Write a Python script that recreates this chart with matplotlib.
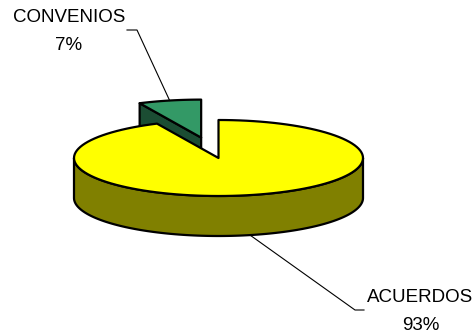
import numpy as np
import matplotlib
matplotlib.use("Agg")
import matplotlib.pyplot as plt
from matplotlib.patches import Polygon

# Data
categories = ["CONVENIOS", "ACUERDOS"]
values = [7, 93]
pct_labels = ["7%", "93%"]
explode = [0.55, 0.0]

top_colors = ["#339966", "#FFFF00"]
side_colors = ["#1B4D33", "#808000"]

fig = plt.figure(figsize=(4.75, 3.33), dpi=100)
ax = fig.add_axes([0, 0, 1, 1])
ax.set_xlim(0, 475)
ax.set_ylim(333, 0)
ax.axis("off")

# Pie geometry (projected ellipse, in canvas units)
cx, cy = 218.5, 158.0
rx, ry = 144.5, 38.0
depth = 40.0
start_angle = 90.0


def point(t, ox=0.0, oy=0.0, dz=0.0):
    r = np.radians(t)
    return (cx + ox + rx * np.cos(r), cy + oy - ry * np.sin(r) + dz)


def arc(t0, t1, ox, oy, dz=0.0, n=120):
    ts = np.linspace(t0, t1, n)
    return [point(t, ox, oy, dz) for t in ts]


total = float(sum(values))
bounds = []
a = start_angle
for v in values:
    b = a + 360.0 * v / total
    bounds.append((a, b))
    a = b

# back-to-front order by slice midpoint
mids = [(a0 + a1) / 2 for a0, a1 in bounds]
order = sorted(range(len(values)), key=lambda i: -np.sin(np.radians(mids[i])))

lw = 1.6
label_anchor = {}
for i in order:
    a0, a1 = bounds[i]
    m = mids[i]
    ox = explode[i] * rx * np.cos(np.radians(m))
    oy = -explode[i] * ry * np.sin(np.radians(m))
    c_top = (cx + ox, cy + oy)
    c_bot = (cx + ox, cy + oy + depth)

    # radial faces facing the viewer
    for t, sgn in ((a0, -1), (a1, 1)):
        if np.sin(np.radians(t + sgn * 90)) < -1e-6:
            p_top = point(t, ox, oy)
            p_bot = point(t, ox, oy, depth)
            face = [c_top, p_top, p_bot, c_bot]
            ax.add_patch(Polygon(face, closed=True, facecolor=side_colors[i],
                                 edgecolor="black", lw=lw, joinstyle="round"))

    # outer wall: front half of the ellipse only
    for w0, w1 in ((180, 360), (540, 720)):
        s0, s1 = max(a0, w0), min(a1, w1)
        if s1 > s0:
            wall = arc(s0, s1, ox, oy) + arc(s1, s0, ox, oy, depth)
            ax.add_patch(Polygon(wall, closed=True, facecolor=side_colors[i],
                                 edgecolor="black", lw=lw, joinstyle="round"))

    # top face
    top = [c_top] + arc(a0, a1, ox, oy)
    ax.add_patch(Polygon(top, closed=True, facecolor=top_colors[i],
                         edgecolor="black", lw=lw, joinstyle="round"))

    if np.sin(np.radians(m)) > 0:
        label_anchor[i] = point(m, ox, oy)
    else:
        label_anchor[i] = point(m, ox, oy, depth)

font = dict(family=["Liberation Sans", "DejaVu Sans"], fontsize=13.5, color="black")

# Leader lines and labels
x0, y0 = label_anchor[0]
ax.plot([127, 137, x0], [30, 30, y0], color="black", lw=0.8)
ax.text(69, 22, categories[0], ha="center", va="baseline", **font)
ax.text(69, 50, pct_labels[0], ha="center", va="baseline", **font)

x1, y1 = label_anchor[1]
ax.plot([x1, 355, 364], [y1, 310, 310], color="black", lw=0.8)
ax.text(420, 302, categories[1], ha="center", va="baseline", **font)
ax.text(421, 330, pct_labels[1], ha="center", va="baseline", **font)

fig.savefig("out.png", dpi=100, facecolor="white")
